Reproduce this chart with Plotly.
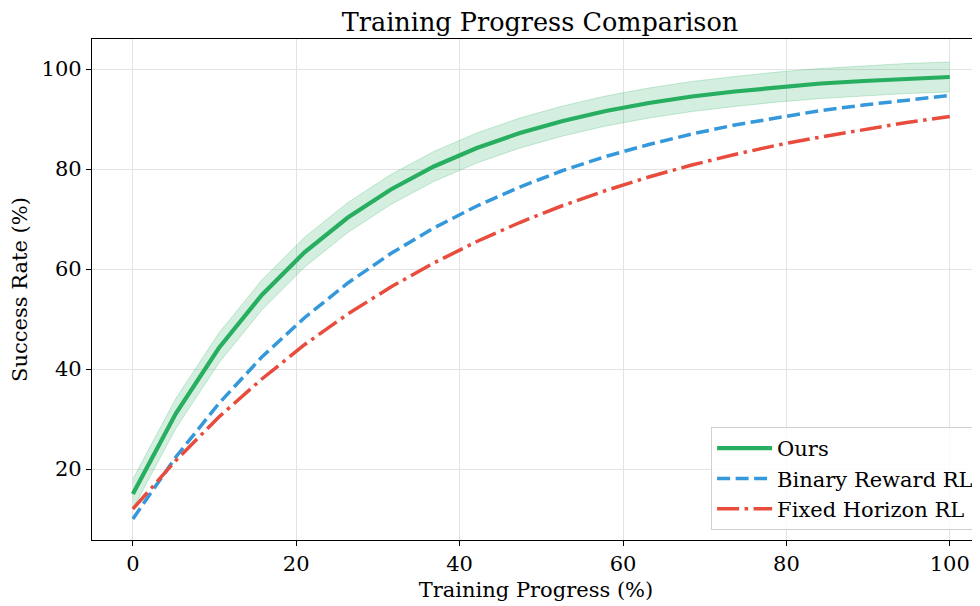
import plotly.graph_objects as go

progress = [0.0, 5.26, 10.53, 15.79, 21.05, 26.32, 31.58, 36.84, 42.11, 47.37,
            52.63, 57.89, 63.16, 68.42, 73.68, 78.95, 84.21, 89.47, 94.74, 100.0]
ours = [15.0, 31.1, 44.2, 54.8, 63.4, 70.3, 75.9, 80.5, 84.2, 87.2,
        89.6, 91.6, 93.2, 94.5, 95.5, 96.4, 97.1, 97.6, 98.1, 98.4]
ours_std = [3.0] * 20
binary = [10.0, 22.4, 33.1, 42.4, 50.3, 57.2, 63.1, 68.2, 72.6, 76.4,
          79.7, 82.5, 84.9, 87.0, 88.8, 90.3, 91.7, 92.8, 93.8, 94.7]
fixed = [12.0, 21.7, 30.4, 38.0, 44.9, 51.0, 56.4, 61.2, 65.5, 69.3,
         72.7, 75.7, 78.4, 80.8, 82.9, 84.8, 86.4, 87.9, 89.3, 90.5]

GREEN = "#27ae60"
BLUE = "#3498db"
RED = "#e74c3c"
FONT = "DejaVu Serif"

upper = [m + s for m, s in zip(ours, ours_std)]
lower = [m - s for m, s in zip(ours, ours_std)]

# page body has an 8px margin, so the figure is drawn 8px smaller
W, H = 972, 598

fig = go.Figure()
fig.add_trace(go.Scatter(x=progress, y=upper, mode="lines", line=dict(width=1, color="rgba(39,174,96,0.25)"),
                         showlegend=False, hoverinfo="skip"))
fig.add_trace(go.Scatter(x=progress, y=lower, mode="lines", line=dict(width=1, color="rgba(39,174,96,0.25)"),
                         fill="tonexty", fillcolor="rgba(39,174,96,0.2)", showlegend=False, hoverinfo="skip"))
fig.add_trace(go.Scatter(x=progress, y=ours, mode="lines", name="Ours",
                         line=dict(color=GREEN, width=4.2)))
fig.add_trace(go.Scatter(x=progress, y=binary, mode="lines", name="Binary Reward RL",
                         line=dict(color=BLUE, width=3.5, dash="13px,5.5px")))
fig.add_trace(go.Scatter(x=progress, y=fixed, mode="lines", name="Fixed Horizon RL",
                         line=dict(color=RED, width=3.5, dash="22px,5.5px,3.5px,5.5px")))

fig.update_layout(
    width=W, height=H,
    margin=dict(l=84, r=0, t=31, b=66),
    paper_bgcolor="white", plot_bgcolor="white",
    font=dict(family=FONT, size=21, color="black"),
    title=dict(text="Training Progress Comparison", x=532 / W, xref="container", xanchor="center",
               y=1 - 14 / H, yref="container", yanchor="middle", font=dict(size=25.5, family=FONT)),
    legend=dict(x=0.999, y=0.02, xanchor="right", yanchor="bottom", traceorder="normal",
                bgcolor="rgba(255,255,255,0.85)", bordercolor="#d0d0d0", borderwidth=1,
                font=dict(size=21, family=FONT), itemwidth=55, tracegroupgap=0),
    showlegend=True,
)
fig.update_xaxes(range=[-5, 103.7], tickvals=[0, 20, 40, 60, 80, 100],
                 showgrid=True, gridcolor="#e3e3e3", gridwidth=1, zeroline=False,
                 showline=True, linecolor="black", linewidth=1.3, mirror=True,
                 ticks="outside", ticklen=5, tickcolor="black",
                 tickfont=dict(size=21), title=dict(text="Training Progress (%)", font=dict(size=21), standoff=6))
fig.update_yaxes(range=[5.8, 106], tickvals=[20, 40, 60, 80, 100],
                 showgrid=True, gridcolor="#e3e3e3", gridwidth=1, zeroline=False,
                 showline=True, linecolor="black", linewidth=1.3, mirror=False,
                 ticks="outside", ticklen=5, tickcolor="black",
                 tickfont=dict(size=21), title=dict(text="Success Rate (%)", font=dict(size=21), standoff=10))

fig.write_html("out.html")
